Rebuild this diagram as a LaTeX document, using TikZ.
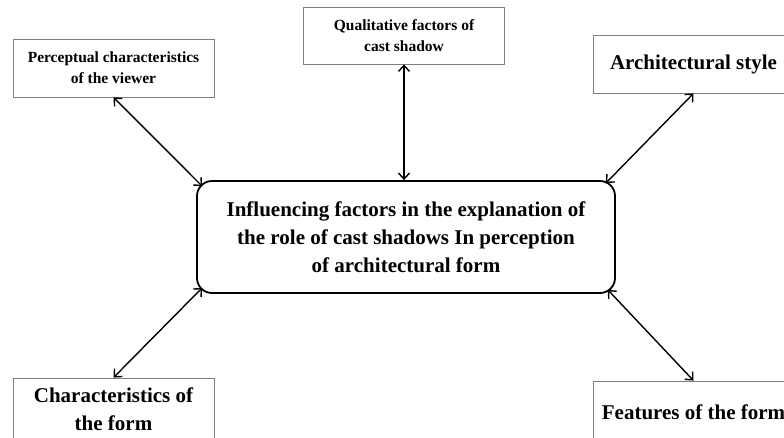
\documentclass[tikz,border=0pt]{standalone}
\usepackage{fontspec}
\setmainfont{Liberation Serif}
\usetikzlibrary{arrows.meta}

\begin{document}
\begin{tikzpicture}[x=1pt, y=-1pt,
		factor/.style={draw=gray, line width=0.8pt, minimum width=201pt, minimum height=58pt, inner sep=0pt, align=center},
		small/.style={font=\fontsize{15.5}{21}\selectfont\bfseries},
		large/.style={font=\fontsize{21}{28}\selectfont\bfseries},
		link/.style={line width=1.4pt, {Straight Barb[length=6pt,width=11pt]}-{Straight Barb[length=6pt,width=11pt]}}]
		\useasboundingbox (0, 0) rectangle (784, 437);
		\clip (0, 0) rectangle (784, 437);
		% central box
		\node[draw, line width=1.8pt, rounded corners=15pt, minimum width=418pt, minimum height=112pt, align=center, large] (centre) at (406, 237) {Influencing factors in the explanation of\\the role of cast shadows In perception\\of architectural form};
		% factors
		\node[factor, small] (percep) at (113.5, 68) {Perceptual characteristics\\of the viewer};
		\node[factor, small, minimum height=57pt] (qual) at (404, 35.5) {Qualitative factors of\\cast shadow};
		\node[factor, large] (style) at (693.5, 64) {Architectural style};
		\node[factor, large, minimum height=62pt] (charform) at (113.5, 409) {Characteristics of\\the form};
		\node[factor, large, minimum height=62pt] (features) at (693.5, 412) {Features of the form};
		% links
		\draw[link] (percep.south) -- ([shift={(6,6)}]centre.north west);
		\draw[link] (qual.south) -- (qual.south |- centre.north);
		\draw[link] (style.south) -- ([shift={(-10,3)}]centre.north east);
		\draw[link] (charform.north) -- ([shift={(6,-6)}]centre.south west);
		\draw[link] (features.north) -- ([shift={(-8,-4)}]centre.south east);
	\end{tikzpicture}
\end{document}
